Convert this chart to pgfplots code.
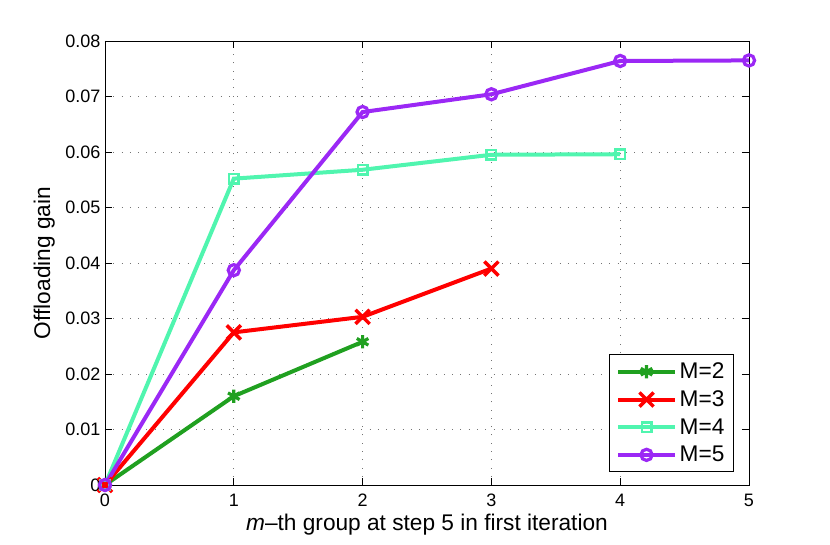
\documentclass[border=0pt]{standalone}
\usepackage{pgfplots}
\pgfplotsset{compat=1.18}
\usepackage{fontspec}
\setmainfont{Liberation Sans}
\definecolor{cM2}{RGB}{32,160,32}
\definecolor{cM3}{RGB}{255,0,0}
\definecolor{cM4}{RGB}{80,245,175}
\definecolor{cM5}{RGB}{155,40,245}
\begin{document}
\begin{tikzpicture}
\path[use as bounding box] (-78.75pt,-45pt) rectangle (543.75pt,363.75pt);
\begin{axis}[
  at={(0,0)}, anchor=south west,
  scale only axis, width=483pt, height=333pt,
  xmin=0, xmax=5, ymin=0, ymax=0.08,
  xtick={0,1,2,3,4,5},
  ytick={0,0.01,0.02,0.03,0.04,0.05,0.06,0.07,0.08},
  yticklabels={0,0.01,0.02,0.03,0.04,0.05,0.06,0.07,0.08},
  scaled y ticks=false,
  /pgf/number format/assume math mode=true,
  tick label style={font=\fontsize{13.5}{15}\selectfont},
  label style={font=\fontsize{17}{19}\selectfont},
  xlabel={\textit{m}–th group at step 5 in first iteration},
  ylabel={Offloading gain},
  tick align=inside, tick pos=both,
  major tick length=5pt,
  grid=major,
  major grid style={black!55, line width=0.7pt, dash pattern=on 0.7pt off 5.5pt},
  axis line style={line width=0.7pt},
  every tick/.style={black, line width=0.7pt},
  xticklabel style={yshift=-3pt},
  xlabel style={yshift=1pt},
  ylabel style={yshift=1pt},
  clip=false,
  legend style={font=\fontsize{17}{19}\selectfont, at={(0.977,0.029)}, anchor=south east, line width=0.7pt, inner xsep=5pt, inner ysep=4pt, row sep=3.5pt},
  legend cell align=left,
  legend image code/.code={
    \draw[mark repeat=2,mark phase=2] plot coordinates {(0cm,0cm) (0.75cm,0cm) (1.5cm,0cm)};
  },
]
\addplot[cM2, line width=3pt, mark=asterisk, mark size=5pt, mark options={line width=2.4pt}] coordinates {(0,0) (1,0.0160) (2,0.0258)};
\addlegendentry{M=2}
\addplot[cM3, line width=3pt, mark=x, mark size=7.5pt, mark options={line width=2.6pt}] coordinates {(0,0) (1,0.0275) (2,0.0303) (3,0.0390)};
\addlegendentry{M=3}
\addplot[cM4, line width=3pt, mark=square, mark size=3.5pt, mark options={line width=2pt}] coordinates {(0,0) (1,0.0552) (2,0.0568) (3,0.0595) (4,0.0596)};
\addlegendentry{M=4}
\addplot[cM5, line width=3pt, mark=o, mark size=4.2pt, mark options={line width=2.4pt}] coordinates {(0,0) (1,0.0387) (2,0.0672) (3,0.0704) (4,0.0764) (5,0.0765)};
\addlegendentry{M=5}
\end{axis}
\end{tikzpicture}
\end{document}
